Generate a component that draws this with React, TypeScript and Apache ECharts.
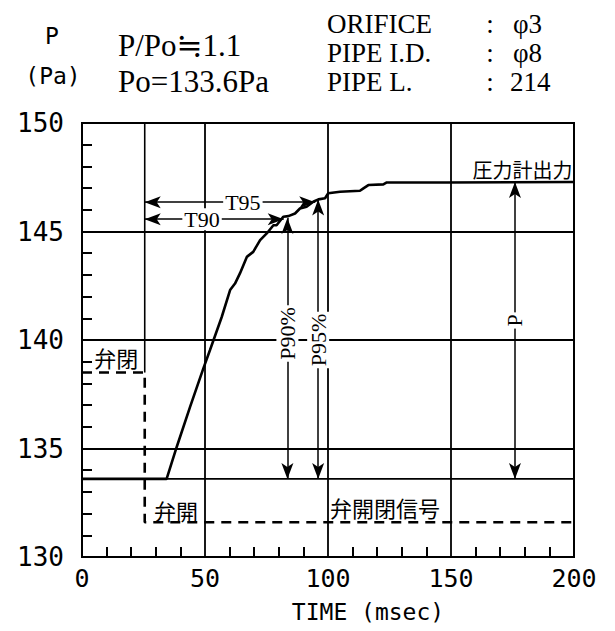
import React, { useEffect, useRef } from "react";
import * as echarts from "echarts";

// ---- data ----
const timeMs = [0, 34.4, 38.5, 43.9, 49.3, 52.0, 56.8, 60.2, 62.2, 64.2, 67.0, 69.6, 72.4, 75.1, 77.8, 79.1, 81.8, 83.9, 86.6, 88.6, 91.3, 94.0, 96.1, 98.8, 100.1, 104.9, 113, 114.4, 116.4, 122.5, 123.9, 148.2, 200];
const pressurePa = [133.6, 133.6, 135.07, 136.91, 138.68, 139.53, 141.06, 142.3, 142.6, 143.07, 143.83, 144.06, 144.6, 144.91, 145.29, 145.29, 145.68, 145.71, 145.83, 146.06, 146.14, 146.37, 146.48, 146.53, 146.76, 146.83, 146.88, 146.99, 147.14, 147.17, 147.26, 147.26, 147.28];

const valveT = [0, 25.5, 25.5, 200];
const valveP = [138.5, 138.5, 131.6, 131.6];

const PO = 133.6;
const START_T = 25.5;

const xTicks = [0, 50, 100, 150, 200];
const yTicks = [130, 135, 140, 145, 150];

// arrows between two (time, pressure) points
const arrowNames = ["T90", "T95", "P90", "P95", "P"];
const arrowFrom = [[25.5, 145.57], [25.5, 146.35], [83.5, 145.62], [96, 146.47], [176, 147.28]];
const arrowTo = [[82, 145.57], [94.8, 146.35], [83.5, 133.6], [96, 133.6], [176, 133.6]];

// annotation texts
const annoText = ["T90", "T95", "P90%", "P95%", "P"];
const annoPos = [[48.8, 145.57], [65.4, 146.35], [83.5, 140.3], [96, 140.0], [176, 140.9]];
const annoRot = [0, 0, 90, 90, 90];

const jpText = ["圧力計出力", "弁閉", "弁開", "弁開閉信号"];
const jpPos = [[199.4, 147.85], [5, 139.2], [29.3, 132.15], [100.8, 132.3]];
const jpAlign = ["right", "left", "left", "left"];

const SERIF = '"Liberation Serif", "DejaVu Serif", serif';
const MONO = '"DejaVu Sans Mono", "Liberation Mono", monospace';
const JP = '"Noto Sans CJK JP", "Noto Sans CJK SC", sans-serif';

export default function App() {
  const ref = useRef<HTMLDivElement>(null);
  useEffect(() => {
    if (!ref.current) return;
    const chart = echarts.init(ref.current, undefined, { renderer: "svg" });
    const curve = timeMs.map((t, i) => [t, pressurePa[i]]);
    const valve = valveT.map((t, i) => [t, valveP[i]]);

    const annoData = annoText.map((s, i) => ({
      value: [annoPos[i][0], annoPos[i][1]],
      label: {
        show: true,
        formatter: s,
        position: "inside",
        rotate: annoRot[i],
        fontFamily: SERIF,
        fontSize: 22,
        color: "#000",
        backgroundColor: "#fff",
        padding: [0, 2],
      },
    }));
    const jpData = jpText.map((s, i) => ({
      value: [jpPos[i][0], jpPos[i][1]],
      label: {
        show: true,
        formatter: s,
        position: "inside",
        align: jpAlign[i],
        fontFamily: JP,
        fontSize: i === 0 ? 20 : 22,
        color: "#000",
      },
    }));

    const headerText = (text: string, x: number, y: number, font: string, size: number, align = "left") => ({
      type: "text",
      x,
      y,
      style: { text, fill: "#000", font: `${size}px ${font}`, textAlign: align, textVerticalAlign: "middle" },
    });

    chart.setOption({
      animation: false,
      backgroundColor: "#fff",
      grid: { left: 82, right: 41, top: 123, bottom: 74, show: true, borderColor: "#000", borderWidth: 2, backgroundColor: "transparent" },
      xAxis: {
        type: "value",
        min: xTicks[0],
        max: xTicks[xTicks.length - 1],
        interval: 50,
        axisLine: { show: true, lineStyle: { color: "#000", width: 2 } },
        axisTick: { show: false },
        minorTick: { show: true, splitNumber: 5, length: -10, lineStyle: { color: "#000", width: 2 } },
        splitLine: { show: true, lineStyle: { color: "#000", width: 1.8 } },
        axisLabel: { color: "#000", fontFamily: MONO, fontSize: 25, margin: 9 },
      },
      yAxis: {
        type: "value",
        min: yTicks[0],
        max: yTicks[yTicks.length - 1],
        interval: 5,
        axisLine: { show: true, lineStyle: { color: "#000", width: 2 } },
        axisTick: { show: false },
        minorTick: { show: true, splitNumber: 5, length: -10, lineStyle: { color: "#000", width: 2 } },
        splitLine: { show: true, lineStyle: { color: "#000", width: 1.8 } },
        axisLabel: { color: "#000", fontFamily: MONO, fontSize: 26, margin: 18 },
      },
      graphic: [
        headerText("P", 52, 36, MONO, 23, "center"),
        headerText("(Pa)", 53, 76, MONO, 23, "center"),
        headerText("P/Po≒1.1", 118, 45, SERIF, 31),
        headerText("Po=133.6Pa", 118, 81, SERIF, 31),
        headerText("ORIFICE", 327, 24, SERIF, 27),
        headerText(":", 490, 24, SERIF, 27, "center"),
        headerText("φ3", 513, 24, SERIF, 27),
        headerText("PIPE I.D.", 327, 53, SERIF, 27),
        headerText(":", 490, 53, SERIF, 27, "center"),
        headerText("φ8", 513, 53, SERIF, 27),
        headerText("PIPE L.", 327, 82, SERIF, 27),
        headerText(":", 490, 82, SERIF, 27, "center"),
        headerText("214", 510, 82, SERIF, 27),
        headerText("TIME (msec)", 368, 612, MONO, 23, "center"),
      ],
      series: [
        {
          type: "line",
          name: "Po",
          data: [[xTicks[0], PO], [xTicks[xTicks.length - 1], PO]],
          showSymbol: false,
          lineStyle: { color: "#000", width: 1.6 },
          z: 3,
          markLine: {
            silent: true,
            symbol: ["arrow", "arrow"],
            symbolSize: [9, 16],
            label: { show: false },
            lineStyle: { color: "#000", width: 1.5, type: "solid" },
            data: arrowNames.map((n, i) => [
              { name: n, coord: arrowFrom[i] },
              { coord: arrowTo[i] },
            ]),
          },
        },
        {
          type: "line",
          name: "start",
          data: [[START_T, valveP[0]], [START_T, yTicks[yTicks.length - 1]]],
          showSymbol: false,
          lineStyle: { color: "#000", width: 1.6 },
          z: 3,
        },
        {
          type: "line",
          name: "valve",
          data: valve,
          showSymbol: false,
          lineStyle: { color: "#000", width: 2.6, type: [10, 7] },
          z: 4,
        },
        {
          type: "line",
          name: "pressure",
          data: curve,
          showSymbol: false,
          lineStyle: { color: "#000", width: 2.6 },
          z: 5,
        },
        {
          type: "scatter",
          name: "labels",
          symbolSize: 0,
          itemStyle: { opacity: 1 },
          data: [...annoData, ...jpData],
          z: 10,
          silent: true,
        },
      ],
    });
    return () => chart.dispose();
  }, []);
  return <div ref={ref} style={{ position: "fixed", left: 0, top: 0, width: 615, height: 631 }} />;
}
